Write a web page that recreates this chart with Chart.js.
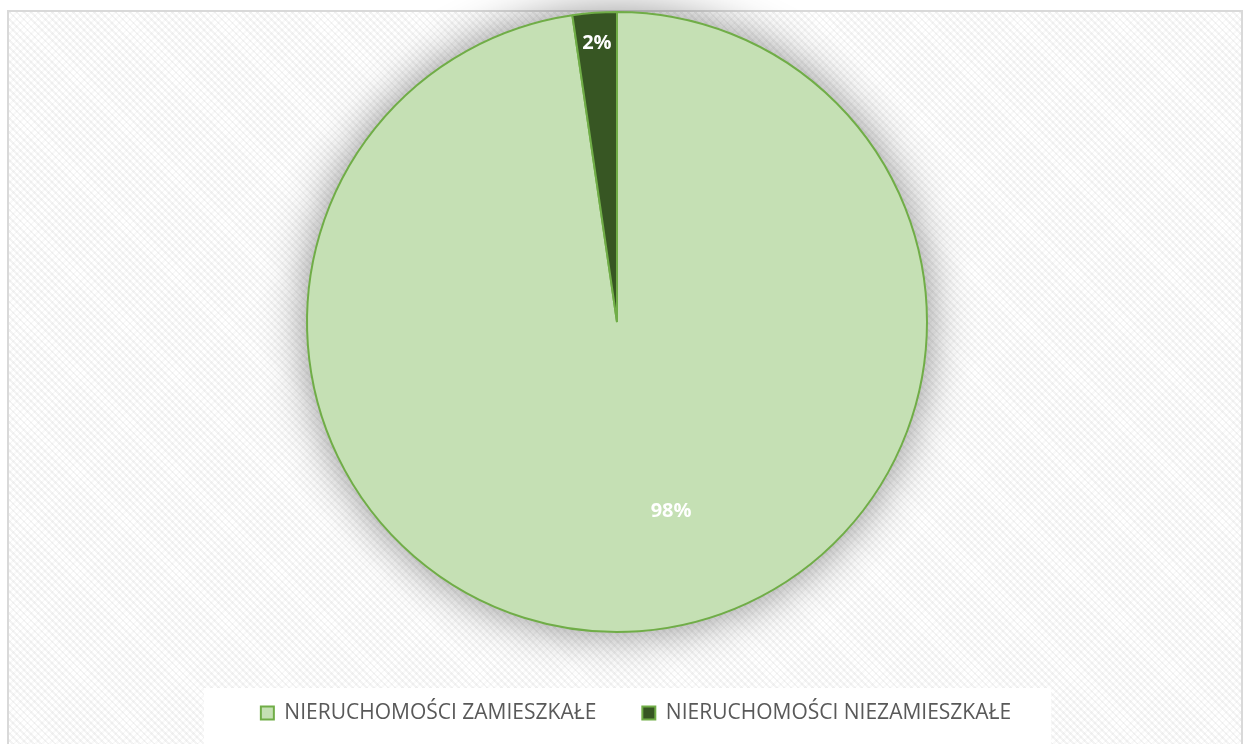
<!DOCTYPE html>
<html>
<head>
<meta charset="utf-8">
<script src="https://cdn.jsdelivr.net/npm/chart.js@4.4.1/dist/chart.umd.min.js"></script>
<style>
    html, body { margin: 0; padding: 0; background: #ffffff; }
    #frame {
        position: absolute; left: 7px; top: 10px; width: 1232px; height: 800px;
        border: 2px solid #d9d9d9;
        background-color: #ffffff;
        background-image:
            repeating-linear-gradient(45deg, rgba(0,0,0,0.045) 0 2px, transparent 2px 5px),
            repeating-linear-gradient(-45deg, rgba(0,0,0,0.025) 0 2px, transparent 2px 5px);
    }
    #wrap { position: absolute; left: 0; top: 0; width: 1244px; height: 744px; }
</style>
</head>
<body>
<div id="frame"></div>
<div id="wrap"><canvas id="pieChart"></canvas></div>
<script>
// Share of properties: inhabited vs uninhabited
const categories = ['NIERUCHOMOŚCI ZAMIESZKAŁE', 'NIERUCHOMOŚCI NIEZAMIESZKAŁE'];
const shares = [97.7, 2.3];

const fillColors = ['#c5e0b4', '#375623'];
const edgeColor = '#70ad47';

// label placement per slice: fraction of radius, angle shift (rad)
const labelPlacement = [
    { r: 0.635, shift: -0.206 },
    { r: 0.90, shift: 0 }
];

// soft shadow behind the whole pie
const pieShadow = {
    id: 'pieShadow',
    beforeDatasetsDraw(chart) {
        const arc = chart.getDatasetMeta(0).data[0];
        if (!arc) return;
        const ctx = chart.ctx;
        ctx.save();
        ctx.shadowColor = 'rgba(0,0,0,0.45)';
        ctx.shadowBlur = 45;
        ctx.fillStyle = fillColors[0];
        ctx.beginPath();
        ctx.arc(arc.x, arc.y, arc.outerRadius, 0, Math.PI * 2);
        ctx.fill();
        ctx.restore();
    }
};

// legend placement + white panel behind it
const legendPanel = {
    id: 'legendPanel',
    afterLayout(chart) {
        const lg = chart.legend;
        lg.left += 19;
        lg.right += 19;
        const dy = 713 - (lg.top + lg.options.labels.padding + 10.5);
        lg.top += dy;
        lg.bottom += dy;
    },
    beforeDraw(chart) {
        const lg = chart.legend;
        if (!lg || !lg.legendHitBoxes.length) return;
        const boxes = lg.legendHitBoxes;
        const left = boxes[0].left;
        const last = boxes[boxes.length - 1];
        const right = last.left + last.width;
        const midY = boxes[0].top + boxes[0].height / 2;
        const ctx = chart.ctx;
        ctx.save();
        ctx.fillStyle = '#ffffff';
        ctx.fillRect(left - 57, midY - 25, (right - left) + 97, 70);
        ctx.restore();
    }
};

const sliceLabels = {
    id: 'sliceLabels',
    afterDatasetsDraw(chart) {
        const ctx = chart.ctx;
        const data = chart.data.datasets[0].data;
        const total = data.reduce((a, b) => a + b, 0);
        chart.getDatasetMeta(0).data.forEach((arc, i) => {
            const mid = (arc.startAngle + arc.endAngle) / 2 + labelPlacement[i].shift;
            const r = arc.outerRadius * labelPlacement[i].r;
            ctx.save();
            ctx.fillStyle = '#ffffff';
            ctx.font = 'bold 20px "Open Sans"';
            ctx.textAlign = 'center';
            ctx.textBaseline = 'middle';
            ctx.fillText(Math.round(data[i] / total * 100) + '%', arc.x + Math.cos(mid) * r, arc.y + Math.sin(mid) * r);
            ctx.restore();
        });
    }
};

new Chart(document.getElementById('pieChart'), {
    type: 'pie',
    data: {
        labels: categories,
        datasets: [
            {
                data: shares,
                backgroundColor: fillColors,
                borderColor: edgeColor,
                borderWidth: 2,
                radius: 310
            }
        ]
    },
    options: {
        responsive: true,
        maintainAspectRatio: false,
        animation: false,
        layout: {
            padding: { top: 0, bottom: 23, left: 0, right: 10 }
        },
        plugins: {
            tooltip: { enabled: false },
            legend: {
                position: 'bottom',
                labels: {
                    boxWidth: 13,
                    boxHeight: 13,
                    padding: 46,
                    color: '#595959',
                    font: { family: 'Open Sans', size: 21 }
                }
            }
        }
    },
    plugins: [pieShadow, legendPanel, sliceLabels]
});
</script>
</body>
</html>
